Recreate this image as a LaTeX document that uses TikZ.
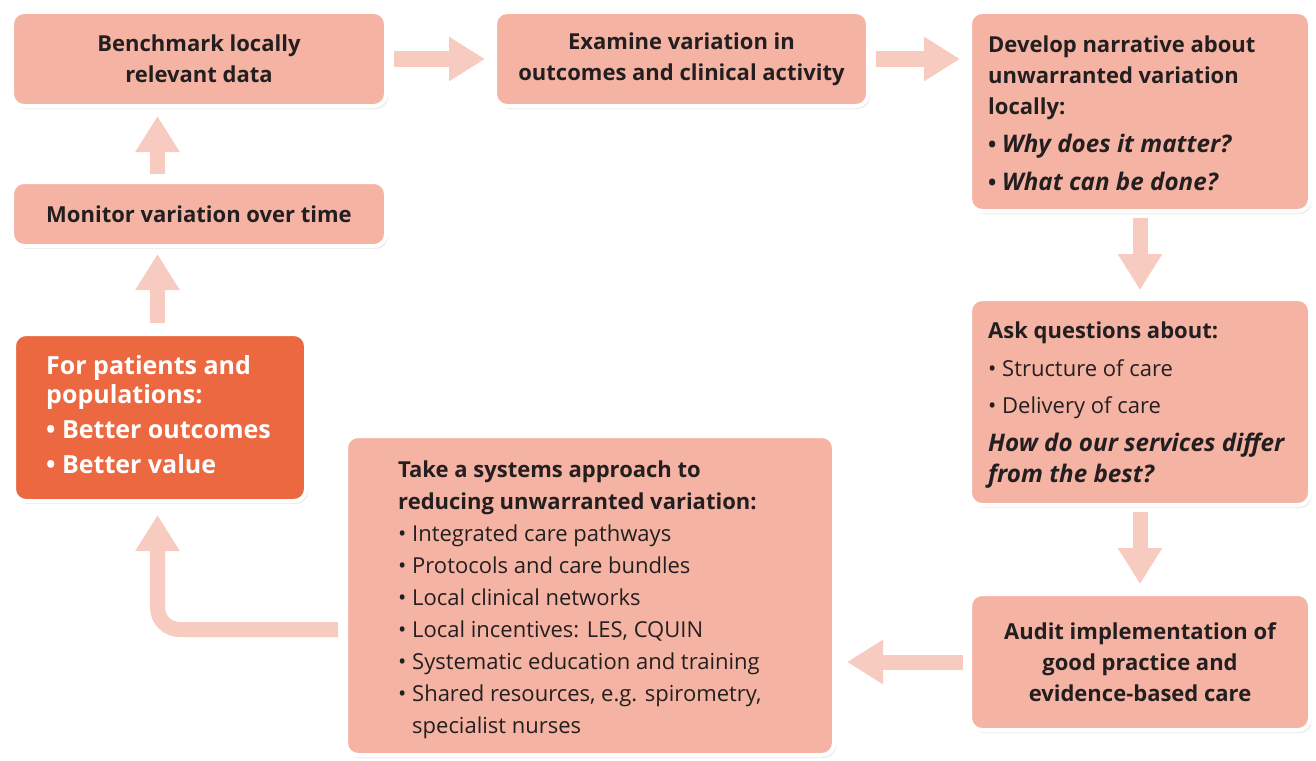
\documentclass[tikz,border=0pt]{standalone}
\usepackage{fontspec}
\setmainfont{Open Sans}[BoldItalicFeatures={Scale=1.1}]
\usetikzlibrary{arrows.meta,shadows}
\definecolor{boxfill}{HTML}{F5B3A4}
\definecolor{orangefill}{HTML}{EC6840}
\definecolor{arrowc}{HTML}{F8CBC0}
\definecolor{textc}{HTML}{231F20}
\begin{document}
\begin{tikzpicture}[x=1pt,y=-1pt,
  box/.style={draw=white, line width=4pt, rounded corners=12pt, fill=boxfill,
    drop shadow={shadow xshift=2pt, shadow yshift=-3pt, opacity=0.15},
    inner sep=0pt},
  txt/.style={inner sep=0pt, text=textc, font=\fontsize{22}{31}\selectfont\bfseries},
  conn/.style={draw=arrowc, line width=15pt, line cap=butt,
    -{Triangle[width=42pt,length=36pt]}}]
\useasboundingbox (0,0) rectangle (1316,760);

% boxes
\node[box, minimum width=374pt, minimum height=94pt] (bench) at (199,59) {};
\node[box, minimum width=373pt, minimum height=94pt] (exam) at (681.5,59) {};
\node[box, minimum width=340pt, minimum height=199pt] (dev) at (1140,111.5) {};
\node[box, minimum width=374pt, minimum height=64pt] (mon) at (199,214) {};
\node[box, fill=orangefill, minimum width=292pt, minimum height=167pt] (pat) at (160,417.5) {};
\node[box, minimum width=488pt, minimum height=319pt] (sys) at (590,595.5) {};
\node[box, minimum width=340pt, minimum height=206pt] (ask) at (1140,402) {};
\node[box, minimum width=340pt, minimum height=136pt] (aud) at (1140,662) {};

% texts
\node[txt, align=center] (bencht) at (bench) {Benchmark locally\\relevant data};
\node[txt, align=center] (examt) at (exam) {Examine variation in\\outcomes and clinical activity};
\node[txt, align=left, anchor=west] (devt) at ([xshift=20pt,yshift=-2pt]dev.west)
  {Develop narrative about\\unwarranted variation\\locally:\\[7pt]
   \textbullet\ \textit{Why does it matter?}\\[7pt]
   \textbullet\ \textit{What can be done?}};
\node[txt, align=center] (mont) at (mon) {Monitor variation over time};
\node[txt, text=white, align=left, anchor=west, font=\fontsize{25}{29}\selectfont\bfseries] (patt) at ([xshift=34pt,yshift=3pt]pat.west)
  {For patients and\\populations:\\[6pt]\textbullet\ Better outcomes\\[6pt]\textbullet\ Better value};
\node[txt, align=left, anchor=west, font=\fontsize{22}{32}\selectfont\bfseries] (syst) at ([xshift=54pt,yshift=-4pt]sys.west)
  {Take a systems approach to\\reducing unwarranted variation:\\
   \mdseries\textbullet\ Integrated care pathways\\
   \mdseries\textbullet\ Protocols and care bundles\\
   \mdseries\textbullet\ Local clinical networks\\
   \mdseries\textbullet\ Local incentives: LES, CQUIN\\
   \mdseries\textbullet\ Systematic education and training\\
   \mdseries\textbullet\ Shared resources, e.g. spirometry,\\
   \mdseries\phantom{\textbullet\ }specialist nurses};
\node[txt, align=left, anchor=west, font=\fontsize{22}{31}\selectfont\bfseries] (askt) at ([xshift=20pt,yshift=-3pt]ask.west)
  {Ask questions about:\\[7pt]
   \mdseries\textbullet\ Structure of care\\[6pt]
   \mdseries\textbullet\ Delivery of care\\[7pt]
   \textit{How do our services differ}\\
   \textit{from the best?}};
\node[txt, align=center] (audt) at (aud) {Audit implementation of\\good practice and\\evidence-based care};

% connectors
\coordinate (colx) at (157.5,0);
\coordinate (bendy) at (0,629.5);
\draw[conn, shorten <=6pt, shorten >=8pt] (bench.east) -- (exam.west);
\draw[conn, shorten <=6pt, shorten >=8pt] (exam.east) -- (exam.east -| dev.west);
\draw[conn, shorten <=5pt, shorten >=7pt] (dev.south) -- (ask.north);
\draw[conn, shorten <=5pt, shorten >=8pt] (ask.south) -- (aud.north);
\draw[conn, shorten <=5pt, shorten >=11pt] (aud.west) -- (aud.west -| sys.east);
\draw[conn, shorten <=6pt, shorten >=8pt] (mon.north -| colx) -- (bench.south -| colx);
\draw[conn, shorten <=9pt, shorten >=6pt] (pat.north -| colx) -- (mon.south -| colx);
\draw[conn, rounded corners=22pt, shorten <=6pt, shorten >=12pt] (sys.west |- bendy) -| (pat.south -| colx);
\end{tikzpicture}
\end{document}
